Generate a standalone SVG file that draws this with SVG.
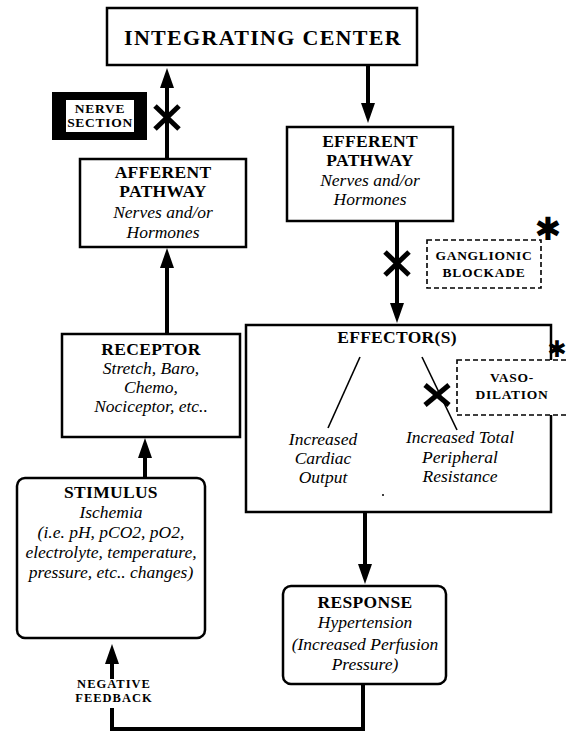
<svg xmlns="http://www.w3.org/2000/svg" width="567" height="733" viewBox="0 0 567 733">
<style>
.box{fill:#fff;stroke:#000;stroke-width:2.5}
.dash{fill:#fff;stroke:#000;stroke-width:1.6;stroke-dasharray:5 3}
.t{font-family:"Liberation Serif","Times New Roman",serif;fill:#000;text-anchor:middle}
.h{font-weight:bold;font-size:17.5px;letter-spacing:0.3px}
.big{font-weight:bold;font-size:22px;letter-spacing:1.3px}
.i{font-style:italic;font-size:17.5px}
.s{font-weight:bold;font-size:13.5px;letter-spacing:0.7px}
.n{font-weight:bold;font-size:12.5px;letter-spacing:1px}
.c{fill:none;stroke:#000;stroke-width:4}
.x{stroke:#000;stroke-width:5;stroke-linecap:butt}
.thin{stroke:#000;stroke-width:1.6}
.ast{font-family:"DejaVu Sans",sans-serif;text-anchor:middle;fill:#000}
</style>
<defs>
<marker id="ah" markerUnits="userSpaceOnUse" markerWidth="20" markerHeight="14" refX="0" refY="7" orient="auto" viewBox="0 0 20 14">
<path d="M0,0 L20,7 L0,14 z" fill="#000"/>
</marker>
</defs>
<rect width="567" height="733" fill="#fff"/>

<g id="connectors">
<line class="c" x1="167" y1="159" x2="167" y2="88" marker-end="url(#ah)"/>
<line class="c" x1="368" y1="65" x2="368" y2="103" marker-end="url(#ah)"/>
<line class="c" x1="167" y1="334" x2="167" y2="268" marker-end="url(#ah)"/>
<line class="c" x1="145" y1="478" x2="145" y2="458" marker-end="url(#ah)"/>
<line class="c" x1="397" y1="221" x2="397" y2="303" marker-end="url(#ah)"/>
<line class="c" x1="365" y1="512" x2="365" y2="564" marker-end="url(#ah)"/>
<polyline class="c" points="363,685 363,729 112,729 112,708"/>
<line class="c" x1="112" y1="679" x2="112" y2="664" marker-end="url(#ah)"/>
<line class="x" x1="155" y1="106" x2="179" y2="129"/>
<line class="x" x1="155" y1="129" x2="179" y2="106"/>
<line class="x" x1="385" y1="252" x2="409" y2="275"/>
<line class="x" x1="385" y1="275" x2="409" y2="252"/>
</g>

<g id="integrating-center">
<rect class="box" x="107" y="8" width="310" height="57"/>
<text class="t big" x="263" y="45">INTEGRATING  CENTER</text>
</g>

<g id="nerve-section">
<rect x="52" y="92" width="95" height="48" fill="#000"/>
<rect x="66" y="100" width="68" height="32" fill="#fff"/>
<text class="t s" x="100" y="113">NERVE</text>
<text class="t s" x="100" y="127">SECTION</text>
</g>

<g id="afferent">
<rect class="box" x="80" y="159" width="166" height="88"/>
<text class="t h" x="163" y="178">AFFERENT</text>
<text class="t h" x="163" y="197">PATHWAY</text>
<text class="t i" x="163" y="218">Nerves and/or</text>
<text class="t i" x="163" y="238">Hormones</text>
</g>

<g id="efferent">
<rect class="box" x="287" y="127" width="166" height="94"/>
<text class="t h" x="370" y="147">EFFERENT</text>
<text class="t h" x="370" y="166">PATHWAY</text>
<text class="t i" x="370" y="186">Nerves and/or</text>
<text class="t i" x="370" y="205">Hormones</text>
</g>

<g id="ganglionic">
<rect class="dash" x="427" y="240" width="114" height="48"/>
<text class="t s" x="484" y="260">GANGLIONIC</text>
<text class="t s" x="484" y="277">BLOCKADE</text>
<text class="ast" x="548" y="240" font-size="32">✱</text>
</g>

<g id="receptor">
<rect class="box" x="62" y="334" width="178" height="103"/>
<text class="t h" x="151" y="355">RECEPTOR</text>
<text class="t i" x="151" y="374">Stretch, Baro,</text>
<text class="t i" x="151" y="393">Chemo,</text>
<text class="t i" x="151" y="412">Nociceptor, etc..</text>
</g>

<g id="effector">
<rect class="box" x="246" y="325" width="305" height="187"/>
<text class="t h" x="397" y="343">EFFECTOR(S)</text>
<line class="thin" x1="360" y1="357" x2="328" y2="428"/>
<line class="thin" x1="422" y1="357" x2="457" y2="430"/>
<line class="x" x1="425" y1="385" x2="449" y2="405"/>
<line class="x" x1="425" y1="405" x2="449" y2="385"/>
<text class="t i" x="323" y="445">Increased</text>
<text class="t i" x="323" y="464">Cardiac</text>
<text class="t i" x="323" y="483">Output</text>
<text class="t i" x="460" y="443">Increased Total</text>
<text class="t i" x="460" y="463">Peripheral</text>
<text class="t i" x="460" y="482">Resistance</text>
<circle cx="383" cy="495" r="1" fill="#000"/>
</g>

<g id="vasodilation">
<rect class="dash" x="457" y="360" width="115" height="55"/>
<text class="t s" x="512" y="382">VASO-</text>
<text class="t s" x="512" y="399">DILATION</text>
<text class="ast" x="557" y="357" font-size="23">✱</text>
</g>

<g id="stimulus">
<rect class="box" x="17" y="478" width="188" height="160" rx="8"/>
<text class="t h" x="111" y="498">STIMULUS</text>
<text class="t i" x="111" y="518">Ischemia</text>
<text class="t i" x="111" y="538">(i.e. pH, pCO2, pO2,</text>
<text class="t i" x="111" y="558">electrolyte, temperature,</text>
<text class="t i" x="111" y="578">pressure, etc.. changes)</text>
</g>

<g id="response">
<rect class="box" x="283" y="586" width="163" height="98" rx="8"/>
<text class="t h" x="365" y="608">RESPONSE</text>
<text class="t i" x="365" y="628">Hypertension</text>
<text class="t i" x="365" y="650">(Increased Perfusion</text>
<text class="t i" x="365" y="670">Pressure)</text>
</g>

<g id="negative-feedback">
<text class="t n" x="114" y="688">NEGATIVE</text>
<text class="t n" x="114" y="702">FEEDBACK</text>
</g>
</svg>
